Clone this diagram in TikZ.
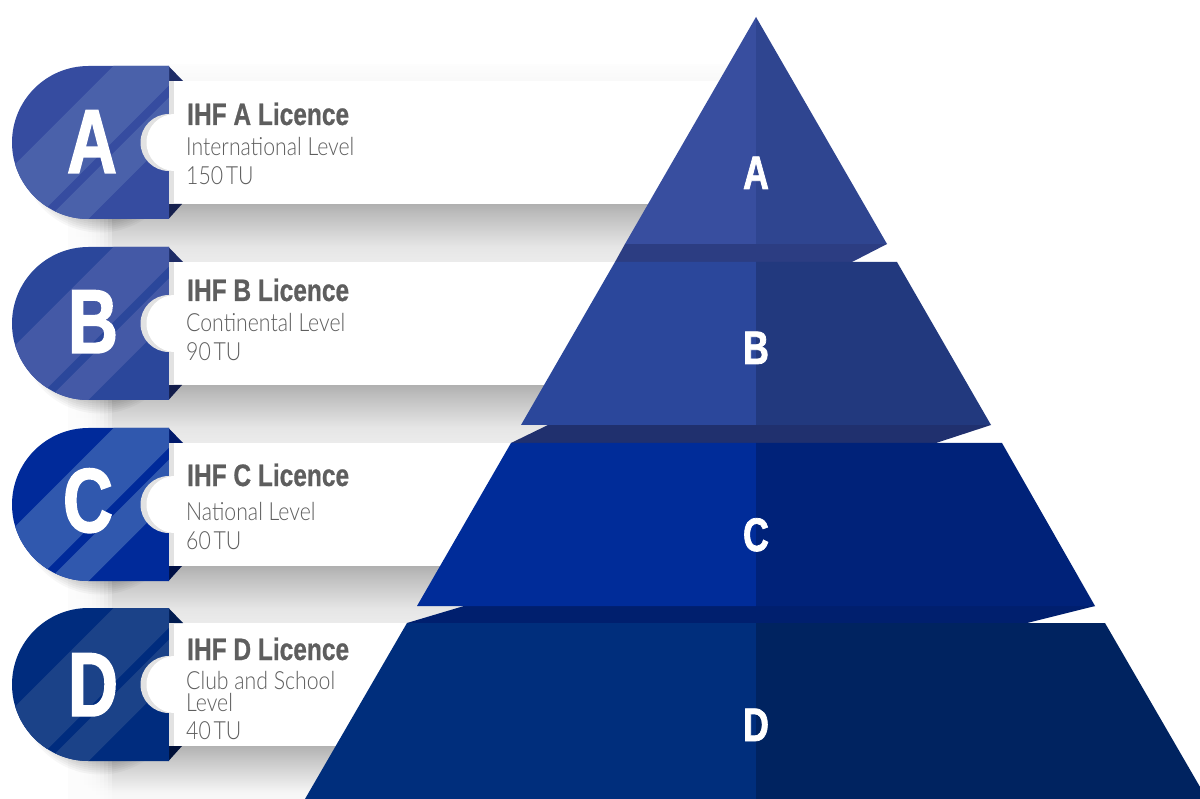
\documentclass[tikz,border=0pt]{standalone}
\usepackage{fontspec}
\setmainfont{Liberation Sans}
\newfontfamily\headfont[FakeStretch=0.79,FakeBold=0.7,UprightFont=* Bold]{Liberation Sans}
\newfontfamily\bigfont[FakeStretch=0.76,FakeBold=1.6,UprightFont=* Bold]{Liberation Sans}
\newfontfamily\subfont[FakeStretch=0.85,UprightFont=* Light]{Lato}
\definecolor{sA}{HTML}{868686}
\definecolor{sB}{HTML}{BDBDBD}
\definecolor{sC}{HTML}{E6E6E6}
\definecolor{sD}{HTML}{F6F6F6}
\definecolor{txt}{HTML}{5E5E5E}
\definecolor{rim}{HTML}{E2E2E2}
\definecolor{AL}{HTML}{384E9F}\definecolor{AR}{HTML}{2F4590}\definecolor{AS}{HTML}{2C3D82}
\definecolor{BL}{HTML}{2B479B}\definecolor{BR}{HTML}{22397E}\definecolor{BS}{HTML}{20306E}
\definecolor{CL}{HTML}{002C99}\definecolor{CR}{HTML}{002279}\definecolor{CS}{HTML}{001F6E}
\definecolor{DL}{HTML}{002E7C}\definecolor{DR}{HTML}{002360}
\definecolor{Abase}{HTML}{364CA0}\definecolor{Alight}{HTML}{4A61AA}\definecolor{Atri}{HTML}{1E2C66}\definecolor{Abot}{HTML}{16204D}
\definecolor{Bbase}{HTML}{2B479B}\definecolor{Blight}{HTML}{4459A6}\definecolor{Btri}{HTML}{1E2C66}\definecolor{Bbot}{HTML}{131D4B}
\definecolor{Cbase}{HTML}{002A9A}\definecolor{Clight}{HTML}{3058AE}\definecolor{Ctri}{HTML}{00196B}\definecolor{Cbot}{HTML}{001045}
\definecolor{Dbase}{HTML}{002C7E}\definecolor{Dlight}{HTML}{1B4288}\definecolor{Dtri}{HTML}{001B50}\definecolor{Dbot}{HTML}{001038}
\pgfdeclareverticalshading{pshadow}{100bp}{color(0bp)=(sD); color(38bp)=(sC); color(67bp)=(sB); color(100bp)=(sA)}
\pgfdeclareverticalshading{lastshadow}{100bp}{color(0bp)=(white); color(35bp)=(sD); color(62bp)=(sB!70!sC); color(100bp)=(sA)}
\pgfdeclareverticalshading{topshadow}{100bp}{color(0bp)=(sD); color(100bp)=(white)}
\tikzset{
  headtext/.style={anchor=base west,inner sep=0pt,text=txt,font=\headfont\fontsize{31}{31}\selectfont},
  subtext/.style={anchor=base west,inner sep=0pt,text=txt,font=\subfont\fontsize{25}{25}\selectfont},
  bigletter/.style={anchor=base,inner sep=0pt,text=white,font=\bigfont\fontsize{91}{91}\selectfont},
  pyrletter/.style={anchor=base,inner sep=0pt,text=white,font=\bigfont\fontsize{47}{47}\selectfont},
}
% #1 shading, #2 centre y
\newcommand{\rowshadow}[2]{%
  \fill[shading=#1] (66,#2+61.5) rectangle (750,#2+119.5);
  \fill[white] (65,#2+61.5) rectangle (68,#2+120);
  \foreach \x in {68,72,...,112}{\fill[white,opacity=0.28] (67,#2+61.5) rectangle (\x,#2+120);}
  \foreach \r in {64,66,...,80}{\fill[black,opacity=0.03] (100,#2+10) circle[radius=\r pt];}
}
\newcommand{\badge}[2]{%
  \fill[white] (170,#2-61.5) rectangle (750,#2+61.5);
  \fill[#1tri] (168.5,#2-76.5) -- (183,#2-61.5) -- (168.5,#2-61.5) -- cycle;
  \fill[#1bot] (168.5,#2+76.5) -- (182,#2+61.5) -- (168.5,#2+61.5) -- cycle;
  \fill[#1base] (169,#2-76.5) -- (88.5,#2-76.5) arc[start angle=90,end angle=270,radius=76.5pt] -- (169,#2+76.5) -- cycle;
  \begin{scope}
    \clip (169,#2-76.5) -- (88.5,#2-76.5) arc[start angle=90,end angle=270,radius=76.5pt] -- (169,#2+76.5) -- cycle;
    \fill[#1light] (0,#2+37) -- (200,#2-163) -- (200,#2-88) -- (0,#2+112) -- cycle;
    \fill[#1light] (0,#2+124) -- (200,#2-76) -- (200,#2-35) -- (0,#2+165) -- cycle;
  \end{scope}
  \fill[rim] (169,#2-61.5) rectangle (174,#2+61.5);
  \fill[rim] (169,#2) circle[radius=28.5pt];
  \fill[white] (175,#2) circle[radius=28.5pt];
}
\begin{document}
\begin{tikzpicture}[x=1pt,y=-1pt]
\clip (0,0) rectangle (1200,799);
\fill[white] (0,0) rectangle (1200,799);
% soft shadows
\fill[shading=topshadow] (170,65) rectangle (750,81);
\rowshadow{pshadow}{142.5}
\rowshadow{pshadow}{323.5}
\rowshadow{pshadow}{504.5}
\rowshadow{lastshadow}{684.5}
% panels and badges
\badge{A}{142.5}
\badge{B}{323.5}
\badge{C}{504.5}
\badge{D}{684.5}
% badge letters
\node[bigletter] (bigA) at (92,173) {A};
\node[bigletter] (bigB) at (93,353) {B};
\node[bigletter] (bigC) at (88,532) {C};
\node[bigletter] (bigD) at (93,716) {D};
% panel texts
\node[headtext] (headA) at (187,125) {IHF A Licence};
\node[subtext] (subA) at (186,156) {International Level};
\node[subtext] (tuA) at (186,184.5) {150\hspace{-3pt} TU};
\node[headtext] (headB) at (187,301) {IHF B Licence};
\node[subtext] (subB) at (186,332) {Continental Level};
\node[subtext] (tuB) at (186,361) {90\hspace{-3pt} TU};
\node[headtext] (headC) at (187,486) {IHF C Licence};
\node[subtext] (subC) at (186,520) {National Level};
\node[subtext] (tuC) at (186,549) {60\hspace{-3pt} TU};
\node[headtext] (headD) at (187,660) {IHF D Licence};
\node[subtext,anchor=north west,align=left,font=\subfont\fontsize{25}{22}\selectfont] (subD) at (186,671.5) {Club and School\\Level};
\node[subtext] (tuD) at (186,739) {40\hspace{-3pt} TU};
% pyramid
\fill[AS] (625,244) -- (887,244) -- (852,262) -- (615,262) -- cycle;
\fill[AL] (756,17) -- (625,244) -- (756,244) -- cycle;
\fill[AR] (756,17) -- (887,244) -- (756,244) -- cycle;
\fill[BS] (548,425) -- (991,425) -- (936,443) -- (511,443) -- cycle;
\fill[BL] (615,262) -- (756,262) -- (756,425) -- (521,425) -- cycle;
\fill[BR] (756,262) -- (897,262) -- (991,425) -- (756,425) -- cycle;
\fill[CS] (464,606) -- (1095,606) -- (1027,623) -- (407,623) -- cycle;
\fill[CL] (511,443) -- (756,443) -- (756,606) -- (417,606) -- cycle;
\fill[CR] (756,443) -- (1002,443) -- (1095,606) -- (756,606) -- cycle;
\fill[DL] (407,623) -- (756,623) -- (756,799) -- (305,799) -- cycle;
\fill[DR] (756,623) -- (1105,623) -- (1207,799) -- (756,799) -- cycle;
% pyramid letters
\node[pyrletter] (pyrA) at (756,189) {A};
\node[pyrletter] (pyrB) at (756,364) {B};
\node[pyrletter] (pyrC) at (756,551) {C};
\node[pyrletter] (pyrD) at (756,741) {D};
\end{tikzpicture}
\end{document}
